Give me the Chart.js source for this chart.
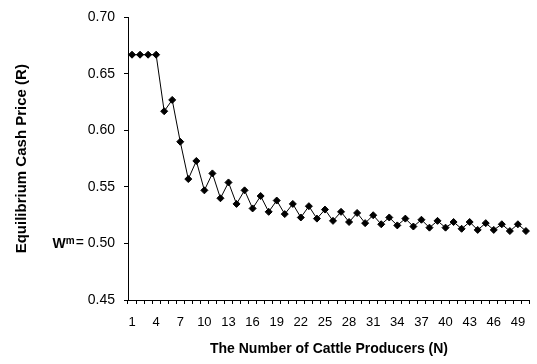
<!DOCTYPE html>
<html>
<head>
<meta charset="utf-8">
<script src="https://cdn.jsdelivr.net/npm/chart.js@4.4.1/dist/chart.umd.min.js"></script>
<style>
  html, body { margin: 0; padding: 0; background: #fff; }
</style>
</head>
<body>
<canvas id="chart" width="537" height="364"></canvas>
<script>
// number of cattle producers (N)
const producers = ['1','2','3','4','5','6','7','8','9','10',
  '11','12','13','14','15','16','17','18','19','20',
  '21','22','23','24','25','26','27','28','29','30',
  '31','32','33','34','35','36','37','38','39','40',
  '41','42','43','44','45','46','47','48','49','50'];

// equilibrium cash price (R)
const cashPrice = [0.667, 0.667, 0.667, 0.667, 0.617, 0.627, 0.590, 0.557, 0.573, 0.547,
  0.562, 0.540, 0.554, 0.535, 0.547, 0.531, 0.542, 0.528, 0.538, 0.526,
  0.535, 0.523, 0.533, 0.522, 0.530, 0.520, 0.528, 0.519, 0.527, 0.518,
  0.525, 0.517, 0.523, 0.516, 0.522, 0.515, 0.521, 0.514, 0.520, 0.514,
  0.519, 0.513, 0.519, 0.512, 0.518, 0.512, 0.517, 0.511, 0.517, 0.511];

// only every third producer gets a label
const xTickLabels = ['1','4','7','10','13','16','19','22','25','28','31','34','37','40','43','46','49'];
const yMin = 0.45, yMax = 0.70, yStep = 0.05;

const FONT = '"Liberation Sans", Arial, sans-serif';

// draws the bold "W" with superscript "m" in front of the 0.50 tick
const wmPlugin = {
  id: 'wmLabel',
  afterDraw(chart) {
    const ys = chart.scales.y;
    const ctx = chart.ctx;
    const py = ys.getPixelForValue(0.5);
    ctx.save();
    ctx.font = '14px ' + FONT;
    const w = ctx.measureText('= 0.50').width;
    let x = ys.right - 4 - 10 - w;
    ctx.fillStyle = '#000';
    ctx.textAlign = 'right';
    ctx.textBaseline = 'alphabetic';
    ctx.font = 'bold 10px ' + FONT;
    ctx.fillText('m', x, py + 1);
    x -= ctx.measureText('m').width;
    ctx.font = 'bold 14px ' + FONT;
    ctx.fillText('W', x, py + 5);
    ctx.restore();
  }
};

new Chart(document.getElementById('chart'), {
  type: 'line',
  data: {
    labels: producers,
    datasets: [{
      data: cashPrice,
      borderColor: '#000',
      borderWidth: 1,
      backgroundColor: '#000',
      pointStyle: 'rectRot',
      pointRadius: 3.5,
      pointBorderWidth: 1,
      pointBackgroundColor: '#000',
      pointBorderColor: '#000',
      tension: 0,
      fill: false
    }]
  },
  options: {
    responsive: false,
    animation: false,
    layout: { padding: { left: 9, right: 7, top: 15, bottom: 2 } },
    plugins: {
      legend: { display: false },
      tooltip: { enabled: false }
    },
    scales: {
      x: {
        type: 'category',
        offset: true,
        grid: { offset: true, drawOnChartArea: false, drawTicks: true, tickLength: 4, color: '#000' },
        border: { display: true, color: '#000', width: 1 },
        ticks: {
          autoSkip: false,
          maxRotation: 0,
          padding: 11,
          color: '#000',
          font: { family: FONT, size: 13 },
          callback(value) {
            const l = this.getLabelForValue(value);
            return xTickLabels.includes(l) ? l : '';
          }
        },
        title: {
          display: true,
          text: 'The Number of Cattle Producers (N)',
          color: '#000',
          font: { family: FONT, size: 14, weight: 'bold' },
          padding: { top: 4, bottom: 4 }
        },
        afterFit(scale) { scale.height = 62; }
      },
      y: {
        min: yMin,
        max: yMax,
        grid: { drawOnChartArea: false, drawTicks: true, tickLength: 4, color: '#000' },
        border: { display: true, color: '#000', width: 1 },
        ticks: {
          stepSize: yStep,
          padding: 9,
          color: '#000',
          font: { family: FONT, size: 14 },
          callback(value) {
            const t = value.toFixed(2);
            return t === '0.50' ? '= 0.50' : t;
          }
        },
        title: {
          display: true,
          text: 'Equilibrium Cash Price (R)',
          color: '#000',
          font: { family: FONT, size: 15, weight: 'bold' },
          padding: { top: 4, bottom: 4 }
        },
        afterFit(scale) { scale.width = 119; }
      }
    }
  },
  plugins: [wmPlugin]
});
</script>
</body>
</html>
